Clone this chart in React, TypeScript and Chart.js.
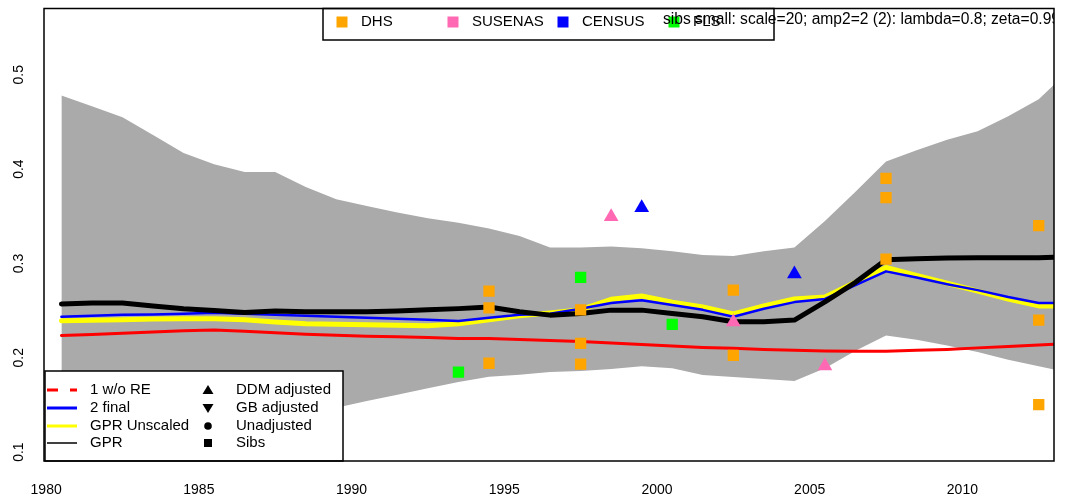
import React, { useEffect, useRef } from "react";
import { Chart, registerables } from "chart.js";

Chart.register(...registerables);

// ---------- data ----------
const years = [
  1980.5, 1981.5, 1982.5, 1983.5, 1984.5, 1985.5, 1986.5, 1987.5, 1988.5, 1989.5,
  1990.5, 1991.5, 1992.5, 1993.5, 1994.5, 1995.5, 1996.5, 1997.5, 1998.5, 1999.5,
  2000.5, 2001.5, 2002.5, 2003.5, 2004.5, 2005.5, 2006.5, 2007.5, 2008.5, 2009.5,
  2010.5, 2011.5, 2012.5, 2013.5,
];
const bandUpper = [
  0.478, 0.4665, 0.455, 0.436, 0.417, 0.405, 0.397, 0.397, 0.381, 0.368,
  0.361, 0.354, 0.348, 0.343, 0.337, 0.329, 0.317, 0.317, 0.318, 0.316,
  0.313, 0.309, 0.308, 0.313, 0.317, 0.345, 0.376, 0.408, 0.42, 0.431,
  0.44, 0.456, 0.474, 0.505,
];
const bandLower = [
  0.088, 0.095, 0.101, 0.107, 0.114, 0.121, 0.127, 0.1335, 0.141, 0.147,
  0.1542, 0.1608, 0.1676, 0.1743, 0.18, 0.182, 0.185, 0.186, 0.188, 0.191,
  0.189, 0.1817, 0.1796, 0.1775, 0.1754, 0.189, 0.2075, 0.2236, 0.219, 0.213,
  0.206, 0.198, 0.191, 0.184,
];
const gpr = [
  0.257, 0.258, 0.258, 0.255, 0.252, 0.25, 0.248, 0.2497, 0.2487, 0.2487,
  0.2487, 0.2497, 0.2508, 0.2521, 0.2539, 0.2487, 0.2452, 0.2469, 0.2505, 0.2505,
  0.2469, 0.2435, 0.2382, 0.2382, 0.24, 0.2592, 0.28, 0.304, 0.305, 0.3058,
  0.306, 0.306, 0.306, 0.307,
];
const final2 = [
  0.2435, 0.2445, 0.2455, 0.246, 0.2466, 0.2476, 0.2466, 0.2455, 0.2445, 0.2435,
  0.2424, 0.2414, 0.2403, 0.239, 0.2424, 0.2455, 0.2466, 0.252, 0.258, 0.261,
  0.256, 0.2508, 0.2435, 0.252, 0.259, 0.2623, 0.277, 0.2916, 0.285, 0.278,
  0.2717, 0.2644, 0.258, 0.258,
];
const gprUnscaled = [
  0.2393, 0.2398, 0.2403, 0.241, 0.2414, 0.2414, 0.2403, 0.238, 0.236, 0.2356,
  0.235, 0.2346, 0.234, 0.236, 0.2403, 0.2445, 0.2476, 0.251, 0.262, 0.2654,
  0.259, 0.2539, 0.2466, 0.255, 0.2623, 0.2644, 0.28, 0.2958, 0.2874, 0.279,
  0.2707, 0.2623, 0.255, 0.255,
];
const woRE = [
  0.2236, 0.2248, 0.226, 0.2273, 0.2286, 0.2295, 0.2281, 0.2265, 0.225, 0.2239,
  0.2229, 0.2222, 0.2215, 0.2204, 0.2204, 0.2194, 0.2183, 0.2173, 0.2157, 0.2141,
  0.2126, 0.211, 0.21, 0.2089, 0.2079, 0.2073, 0.2068, 0.2068, 0.2079, 0.2089,
  0.2105, 0.212, 0.2136, 0.2152,
];

const dhsYears = [1994.5, 1994.5, 1994.5, 1997.5, 1997.5, 1997.5, 2002.5, 2002.5, 2007.5, 2007.5, 2007.5, 2012.5, 2012.5, 2012.5];
const dhsValues = [0.2707, 0.2529, 0.1942, 0.2508, 0.2152, 0.1932, 0.2717, 0.2026, 0.3901, 0.3698, 0.3045, 0.3401, 0.24, 0.1503];
const flsYears = [1993.5, 1997.5, 2000.5];
const flsValues = [0.1848, 0.2853, 0.2354];
const susenasYears = [1998.5, 2002.5, 2005.5];
const susenasValues = [0.3495, 0.2378, 0.1914];
const censusYears = [1999.5, 2004.5];
const censusValues = [0.359, 0.2888];

const xTickValues = [1980, 1985, 1990, 1995, 2000, 2005, 2010];
const yTickValues = [0.1, 0.2, 0.3, 0.4, 0.5];

const sourceLabels = ["DHS", "SUSENAS", "CENSUS", "FLS"];
const lineLabels = ["1 w/o RE", "2 final", "GPR Unscaled", "GPR"];
const symbolLabels = ["DDM adjusted", "GB adjusted", "Unadjusted", "Sibs"];
const subtitleText = "sibs small: scale=20; amp2=2 (2): lambda=0.8; zeta=0.99";

const COLORS = {
  band: "#AAAAAA",
  dhs: "#FFA500",
  susenas: "#FF69B4",
  census: "#0000FF",
  fls: "#00FF00",
  red: "#FF0000",
  blue: "#0000FF",
  yellow: "#FFFF00",
  black: "#000000",
};

const FONT = "'Liberation Sans', Arial, Helvetica, sans-serif";

const pts = (xs: number[], ys: number[]) => xs.map((x, i) => ({ x, y: ys[i] }));

const chromePlugin = {
  id: "rchrome",
  afterDraw(chart: any) {
    const ctx: CanvasRenderingContext2D = chart.ctx;
    const { left, right, top, bottom } = chart.chartArea;
    const xs = chart.scales.x;
    const ys = chart.scales.y;

    ctx.save();
    // top legend box
    ctx.fillStyle = "#FFFFFF";
    ctx.fillRect(323, top, 774 - 323, 40 - top);
    const topSq = [342, 453, 563, 674];
    const topCols = [COLORS.dhs, COLORS.susenas, COLORS.census, COLORS.fls];
    ctx.font = `15px ${FONT}`;
    ctx.textBaseline = "middle";
    ctx.textAlign = "left";
    sourceLabels.forEach((lab, i) => {
      ctx.fillStyle = topCols[i];
      ctx.fillRect(topSq[i] - 5.5, 22 - 5.5, 11, 11);
      ctx.fillStyle = "#000";
      ctx.fillText(lab, topSq[i] + 19, 22);
    });

    // subtitle text clipped to plot area
    ctx.save();
    ctx.beginPath();
    ctx.rect(left, top, right - left, bottom - top);
    ctx.clip();
    ctx.fillStyle = "#000";
    ctx.font = `15.6px ${FONT}`;
    ctx.textBaseline = "middle";
    ctx.fillText(subtitleText, 663, 20);
    ctx.restore();

    ctx.strokeStyle = "#000";
    ctx.lineWidth = 1.5;
    ctx.strokeRect(323, top, 774 - 323, 40 - top);

    // bottom-left legend
    const bx0 = 45, by0 = 371, bx1 = 343, by1 = bottom;
    ctx.fillStyle = "#FFFFFF";
    ctx.fillRect(bx0, by0, bx1 - bx0, by1 - by0);
    ctx.strokeStyle = "#000";
    ctx.lineWidth = 1.5;
    ctx.strokeRect(bx0, by0, bx1 - bx0, by1 - by0);

    const rowsY = [390, 408, 426, 443];
    const lineCols = [COLORS.red, COLORS.blue, COLORS.yellow, COLORS.black];
    const lineWs = [3, 3, 3, 1.5];
    ctx.font = `15px ${FONT}`;
    ctx.textBaseline = "middle";
    ctx.textAlign = "left";
    lineLabels.forEach((lab, i) => {
      ctx.strokeStyle = lineCols[i];
      ctx.lineWidth = lineWs[i];
      ctx.setLineDash(i === 0 ? [11, 12] : []);
      ctx.beginPath();
      ctx.moveTo(47, rowsY[i]);
      ctx.lineTo(77, rowsY[i]);
      ctx.stroke();
      ctx.setLineDash([]);
      ctx.fillStyle = "#000";
      ctx.fillText(lab, 90, rowsY[i]);
    });
    // symbols
    const sx = 208;
    ctx.fillStyle = "#000";
    ctx.beginPath();
    ctx.moveTo(sx, rowsY[0] - 5);
    ctx.lineTo(sx + 5.5, rowsY[0] + 4);
    ctx.lineTo(sx - 5.5, rowsY[0] + 4);
    ctx.closePath();
    ctx.fill();
    ctx.beginPath();
    ctx.moveTo(sx, rowsY[1] + 5);
    ctx.lineTo(sx + 5.5, rowsY[1] - 4);
    ctx.lineTo(sx - 5.5, rowsY[1] - 4);
    ctx.closePath();
    ctx.fill();
    ctx.beginPath();
    ctx.arc(sx, rowsY[2], 3.8, 0, Math.PI * 2);
    ctx.fill();
    ctx.fillRect(sx - 4, rowsY[3] - 4, 8, 8);
    symbolLabels.forEach((lab, i) => {
      ctx.fillText(lab, 236, rowsY[i]);
    });

    // plot frame
    ctx.strokeStyle = "#000";
    ctx.lineWidth = 1.5;
    ctx.strokeRect(left, top, right - left, bottom - top);

    // axis labels
    ctx.fillStyle = "#000";
    ctx.font = `14px ${FONT}`;
    ctx.textAlign = "center";
    ctx.textBaseline = "middle";
    xTickValues.forEach((v) => {
      ctx.fillText(String(v), xs.getPixelForValue(v), 490);
    });
    yTickValues.forEach((v) => {
      const py = ys.getPixelForValue(v);
      ctx.save();
      ctx.translate(19, py);
      ctx.rotate(-Math.PI / 2);
      ctx.fillText(v.toFixed(1), 0, 0);
      ctx.restore();
    });
    ctx.restore();
  },
};

export default function App() {
  const ref = useRef<HTMLCanvasElement | null>(null);

  useEffect(() => {
    if (!ref.current) return;
    const lineDs = (label: string, ys: number[], color: string, width: number, order: number) => ({
      label,
      data: pts(years, ys),
      borderColor: color,
      backgroundColor: color,
      borderWidth: width,
      pointRadius: 0,
      tension: 0,
      fill: false,
      borderCapStyle: "round",
      borderJoinStyle: "round",
      clip: 0,
      order,
    });
    const pointDs = (label: string, xsArr: number[], ysArr: number[], color: string, style: string, radius: number) => ({
      label,
      data: pts(xsArr, ysArr),
      showLine: false,
      pointStyle: style,
      pointRadius: radius,
      pointBackgroundColor: color,
      pointBorderColor: color,
      pointBorderWidth: 0,
      backgroundColor: color,
      borderColor: color,
      fill: false,
      clip: 0,
      order: 1,
    });

    const chart = new Chart(ref.current, {
      type: "line",
      data: {
        datasets: [
          {
            label: "band upper",
            data: pts(years, bandUpper),
            borderColor: "rgba(0,0,0,0)",
            borderWidth: 0,
            backgroundColor: COLORS.band,
            pointRadius: 0,
            tension: 0,
            fill: "+1",
            order: 20,
          },
          {
            label: "band lower",
            data: pts(years, bandLower),
            borderColor: "rgba(0,0,0,0)",
            borderWidth: 0,
            backgroundColor: COLORS.band,
            pointRadius: 0,
            tension: 0,
            fill: false,
            order: 19,
          },
          lineDs("1 w/o RE", woRE, COLORS.red, 3, 10),
          lineDs("GPR Unscaled", gprUnscaled, COLORS.yellow, 5, 9),
          lineDs("2 final", final2, COLORS.blue, 2.5, 8),
          lineDs("GPR", gpr, COLORS.black, 5, 7),
          pointDs("DHS", dhsYears, dhsValues, COLORS.dhs, "rect", 8),
          pointDs("FLS", flsYears, flsValues, COLORS.fls, "rect", 8),
          pointDs("SUSENAS", susenasYears, susenasValues, COLORS.susenas, "triangle", 8.5),
          pointDs("CENSUS", censusYears, censusValues, COLORS.census, "triangle", 8.5),
        ] as any,
      },
      options: {
        animation: false,
        responsive: false,
        devicePixelRatio: 1,
        layout: { padding: { left: 44, right: 12, top: 3, bottom: 36 } },
        scales: {
          x: { type: "linear", min: 1979.93, max: 2013.0, display: false },
          y: { type: "linear", min: 0.0906, max: 0.5702, display: false },
        },
        plugins: {
          legend: { display: false },
          tooltip: { enabled: false },
        },
        events: [],
      } as any,
      plugins: [chromePlugin],
    });
    return () => chart.destroy();
  }, []);

  return (
    <div style={{ position: "absolute", left: 0, top: 0, width: 1066, height: 497, background: "#fff" }}>
      <canvas ref={ref} width={1066} height={497} style={{ display: "block" }} />
    </div>
  );
}
